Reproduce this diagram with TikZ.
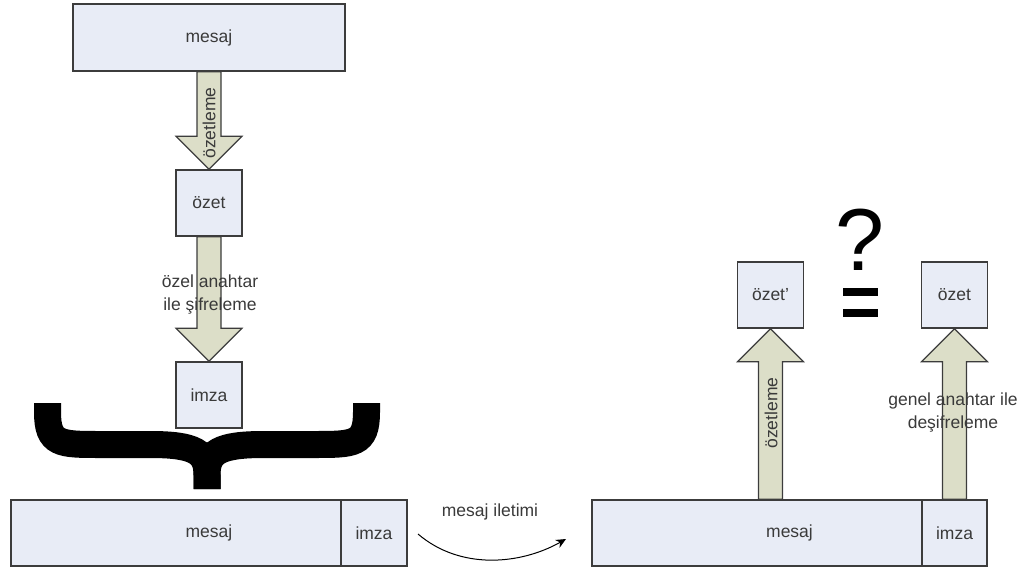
\documentclass[tikz,border=0pt]{standalone}
\usepackage{fontspec}
\setmainfont{Liberation Sans}
\usetikzlibrary{calc,arrows.meta}

\definecolor{boxfill}{HTML}{E8ECF6}
\definecolor{boxline}{HTML}{3C3C3C}
\definecolor{arrowfill}{HTML}{DCDEC8}
\definecolor{txtgray}{HTML}{3A3A3A}

% fat block arrow from #1 to #2 (vertical)
\newcommand{\fatarrow}[2]{%
  \path[fatarrow] let \p1=(#1), \p2=(#2), \p3=($(#2)!16.5pt!(#1)$) in
    (\x1-6pt,\y1) -- (\x1-6pt,\y3) -- (\x1-16.5pt,\y3) -- (\x2,\y2)
    -- (\x1+16.5pt,\y3) -- (\x1+6pt,\y3) -- (\x1+6pt,\y1) -- cycle;}

\begin{document}
\begin{tikzpicture}[x=0.5pt, y=-0.5pt,
  every node/.style={text=txtgray, font=\fontsize{8.75}{11.5}\selectfont, align=center},
  box/.style={draw=boxline, fill=boxfill, line width=0.75pt, inner sep=0pt},
  fatarrow/.style={draw=boxline, fill=arrowfill, line width=0.6pt},
  bracestroke/.style={draw=black, line width=13.5pt}]
  \useasboundingbox (0,0) rectangle (1027,572);

  % Sender side
  \node[box, minimum width=136pt, minimum height=33.5pt] (msgtop) at (209,37.5) {mesaj};
  \node[box, minimum width=33pt, minimum height=33pt] (ozet) at (209,203) {özet};
  \node[box, minimum width=33pt, minimum height=33pt] (imza) at (209,395) {imza};

  \fatarrow{msgtop.south}{ozet.north}
  \fatarrow{ozet.south}{imza.north}
  \node[rotate=90] (lblsum1) at (209,123) {özetleme};
  \node (lblenc) at (210,295) {özel anahtar\\ile şifreleme};

  % Brace
  \foreach \s in {-1,1} {
    \draw[bracestroke] ({207+\s*159.5},403) -- ({207+\s*159.5},412)
      .. controls ({207+\s*159.5},444.5) and ({207+\s*147},444.5) .. ({207+\s*107},444.5)
      -- ({207+\s*57},444.5)
      .. controls ({207+\s*12},444.5) and (207,452) .. (207,475) -- (207,489);
  }

  % Sent message
  \node[box, minimum width=198pt, minimum height=33pt] (msgL) at (209,533) {mesaj};
  \node[box, minimum width=33pt, minimum height=33pt] (imzaL) at (374,533) {imza};

  % Transmission
  \coordinate (sendA) at (418,534);
  \coordinate (sendB) at (566,539);
  \draw[-{Stealth[length=5pt,width=4.5pt]}, black, line width=0.5pt]
    (sendA) .. controls (460,570) and (520,565) .. (sendB);
  \node (lblsend) at (490,512) {mesaj iletimi};

  % Receiver side
  \node[box, minimum width=197.5pt, minimum height=33pt] (msgR) at (789.5,533) {mesaj};
  \node[box, minimum width=32.5pt, minimum height=33pt] (imzaR) at (954.5,533) {imza};
  \node[box, minimum width=33pt, minimum height=33pt] (ozetp) at (770.5,295) {özet'};
  \node[box, minimum width=33pt, minimum height=33pt] (ozetR) at (954.5,295) {özet};

  \fatarrow{ozetp.south |- msgR.north}{ozetp.south}
  \fatarrow{imzaR.north}{ozetR.south}
  \node[rotate=90] (lblsum2) at (771,413) {özetleme};
  \node (lbldec) at (953,413) {genel anahtar ile\\deşifreleme};

  % Comparison
  \node[text=black, font=\fontsize{44}{44}\selectfont] (qmark) at (860,239.5) {?};
  \fill[black] (843,288) rectangle (878,296);
  \fill[black] (843,309) rectangle (878,317);
\end{tikzpicture}
\end{document}
